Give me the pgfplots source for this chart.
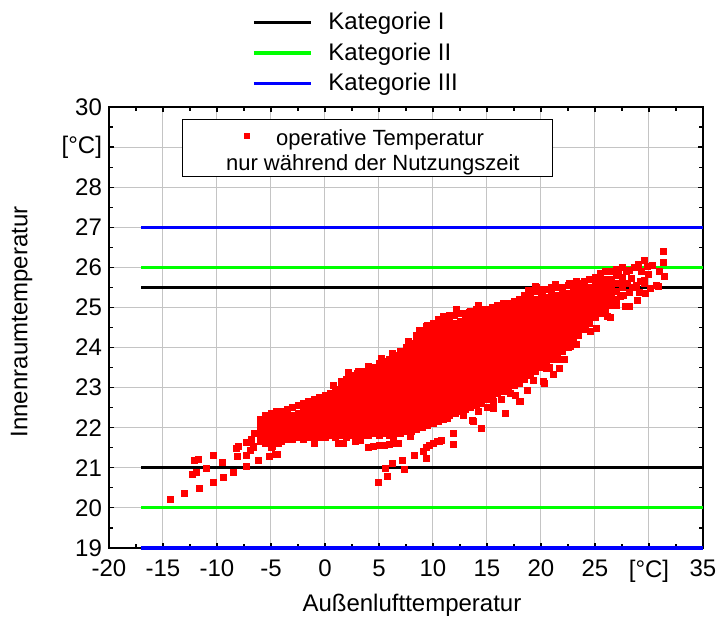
\documentclass[border=0pt]{standalone}
\usepackage{fontspec}
\setmainfont{Liberation Sans}
\usepackage{pgfplots}
\pgfplotsset{compat=1.18}
\definecolor{gridgray}{RGB}{196,196,196}
\definecolor{katgreen}{RGB}{0,255,0}
\definecolor{katblue}{RGB}{0,0,255}
\definecolor{ptred}{RGB}{255,0,0}
\begin{document}
\begin{tikzpicture}
\useasboundingbox (-54.5pt,-35.5pt) rectangle (305pt,274pt);
\begin{axis}[
  at={(0pt,0pt)}, anchor=south west,
  scale only axis, width=297pt, height=220.5pt,
  xmin=-20, xmax=35, ymin=19, ymax=30,
  xtick={-20,-15,...,35}, ytick={19,20,...,30},
  xticklabels={-20,-15,-10,-5,0,5,10,15,20,25,{[°C]},35},
  yticklabels={19,20,21,22,23,24,25,26,27,28,{[°C]},30},
  minor x tick num=1, minor y tick num=1,
  major tick length=2.5pt, minor tick length=2pt,
  tick style={black, line width=0.6pt},
  grid=major, grid style={gridgray, line width=0.5pt},
  axis line style={line width=1.2pt},
  font=\fontsize{12}{14}\selectfont,
  xlabel={Außenlufttemperatur}, ylabel={Innenraumtemperatur},
  every axis x label/.style={at={(axis description cs:0.51,-0.129)}, anchor=center},
  every axis y label/.style={at={(axis description cs:-0.147,0.5125)}, anchor=center, rotate=90},
  xticklabel style={yshift=-2.5pt},
  clip=false, unbounded coords=jump,
  legend image code/.code={\draw[#1] (0cm,0cm) -- (1cm,0cm);},
  legend cell align=left,
  legend style={at={(axis description cs:0.2407,1.2255)}, anchor=north west, draw=none, fill=none, inner sep=0pt, column sep=4pt, row sep=1.2pt, nodes={inner xsep=4pt, inner ysep=2pt}, font=\fontsize{12}{14}\selectfont},
]
\addplot[black, line width=1.6pt] coordinates {(-17,21) (35,21) (35,nan) (-17,25.5) (35,25.5)};
\addlegendentry{Kategorie I}
\addplot[katgreen, line width=1.6pt] coordinates {(-17,20) (35,20) (35,nan) (-17,26) (35,26)};
\addlegendentry{Kategorie II}
\addplot[katblue, line width=1.6pt] coordinates {(-17,19) (35,19) (35,nan) (-17,27) (35,27)};
\addlegendentry{Kategorie III}
\end{axis}
\begin{axis}[
  at={(0pt,0pt)}, anchor=south west,
  scale only axis, width=297pt, height=220.5pt,
  xmin=-20, xmax=35, ymin=19, ymax=30,
  hide axis, clip=false,
  legend cell align=left,
  legend image code/.code={\path[draw=none,fill=none] (-0.36cm,0cm) -- (0.7cm,0cm); \draw[#1,mark size=1.25pt,only marks] plot coordinates {(0.3cm,0cm)};},
  legend style={at={(axis description cs:0.1232,0.9721)}, anchor=north west, draw=black, line width=0.6pt, fill=white, inner xsep=13pt, inner ysep=0pt, row sep=0pt, column sep=0pt, nodes={inner xsep=3.5pt, inner ysep=1.6pt}, font=\fontsize{11}{13}\selectfont},
]
\addplot[only marks, mark=square*, mark size=1.5pt, color=ptred, mark options={line width=0.3pt}] coordinates {
(-6,21.65)(-6,21.8)(-6,21.95)(-6,22.1)(-6,22.2)
(-5.5,21.6)(-5.5,21.75)(-5.5,21.9)(-5.5,22.05)(-5.5,22.2)(-5.5,22.3)
(-5,21.65)(-5,21.8)(-5,21.95)(-5,22.1)(-5,22.25)(-5,22.35)
(-4.5,21.7)(-4.5,21.85)(-4.5,22)(-4.5,22.15)(-4.5,22.3)(-4.5,22.4)
(-4,21.65)(-4,21.8)(-4,21.95)(-4,22.1)(-4,22.25)(-4,22.4)
(-3.5,21.7)(-3.5,21.85)(-3.5,22)(-3.5,22.15)(-3.5,22.3)(-3.5,22.45)
(-3,21.7)(-3,21.85)(-3,22)(-3,22.15)(-3,22.3)(-3,22.5)
(-2.5,21.75)(-2.5,21.9)(-2.5,22.05)(-2.5,22.2)(-2.5,22.35)(-2.5,22.55)
(-2,21.7)(-2,21.85)(-2,22)(-2,22.15)(-2,22.3)(-2,22.45)(-2,22.6)
(-1.5,21.75)(-1.5,21.9)(-1.5,22.05)(-1.5,22.2)(-1.5,22.35)(-1.5,22.5)(-1.5,22.65)
(-1,21.7)(-1,21.85)(-1,22)(-1,22.15)(-1,22.3)(-1,22.45)(-1,22.6)(-1,22.7)
(-0.5,21.75)(-0.5,21.9)(-0.5,22.05)(-0.5,22.2)(-0.5,22.35)(-0.5,22.5)(-0.5,22.65)(-0.5,22.75)
(0,21.75)(0,21.9)(0,22.05)(0,22.2)(0,22.35)(0,22.5)(0,22.65)(0,22.8)
(0.5,21.8)(0.5,21.95)(0.5,22.1)(0.5,22.25)(0.5,22.4)(0.5,22.55)(0.5,22.7)(0.5,22.85)
(1,21.75)(1,21.9)(1,22.05)(1,22.2)(1,22.35)(1,22.5)(1,22.65)(1,22.8)(1,22.95)
(1.5,21.8)(1.5,21.95)(1.5,22.1)(1.5,22.25)(1.5,22.4)(1.5,22.55)(1.5,22.7)(1.5,22.85)(1.5,23)(1.5,23.1)
(2,21.75)(2,21.9)(2,22.05)(2,22.2)(2,22.35)(2,22.5)(2,22.65)(2,22.8)(2,22.95)(2,23.1)(2,23.2)
(2.5,21.8)(2.5,21.95)(2.5,22.1)(2.5,22.25)(2.5,22.4)(2.5,22.55)(2.5,22.7)(2.5,22.85)(2.5,23)(2.5,23.15)(2.5,23.3)
(3,21.75)(3,21.9)(3,22.05)(3,22.2)(3,22.35)(3,22.5)(3,22.65)(3,22.8)(3,22.95)(3,23.1)(3,23.25)(3,23.35)
(3.5,21.8)(3.5,21.95)(3.5,22.1)(3.5,22.25)(3.5,22.4)(3.5,22.55)(3.5,22.7)(3.5,22.85)(3.5,23)(3.5,23.15)(3.5,23.3)(3.5,23.4)
(4,21.8)(4,21.95)(4,22.1)(4,22.25)(4,22.4)(4,22.55)(4,22.7)(4,22.85)(4,23)(4,23.15)(4,23.3)(4,23.45)(4,23.5)
(4.5,21.85)(4.5,22)(4.5,22.15)(4.5,22.3)(4.5,22.45)(4.5,22.6)(4.5,22.75)(4.5,22.9)(4.5,23.05)(4.5,23.2)(4.5,23.35)(4.5,23.5)
(5,21.8)(5,21.95)(5,22.1)(5,22.25)(5,22.4)(5,22.55)(5,22.7)(5,22.85)(5,23)(5,23.15)(5,23.3)(5,23.45)(5,23.6)
(5.5,21.85)(5.5,22)(5.5,22.15)(5.5,22.3)(5.5,22.45)(5.5,22.6)(5.5,22.75)(5.5,22.9)(5.5,23.05)(5.5,23.2)(5.5,23.35)(5.5,23.5)(5.5,23.65)
(6,21.8)(6,21.95)(6,22.1)(6,22.25)(6,22.4)(6,22.55)(6,22.7)(6,22.85)(6,23)(6,23.15)(6,23.3)(6,23.45)(6,23.6)(6,23.7)
(6.5,21.85)(6.5,22)(6.5,22.15)(6.5,22.3)(6.5,22.45)(6.5,22.6)(6.5,22.75)(6.5,22.9)(6.5,23.05)(6.5,23.2)(6.5,23.35)(6.5,23.5)(6.5,23.65)(6.5,23.8)
(7,21.85)(7,22)(7,22.15)(7,22.3)(7,22.45)(7,22.6)(7,22.75)(7,22.9)(7,23.05)(7,23.2)(7,23.35)(7,23.5)(7,23.65)(7,23.8)(7,23.9)
(7.5,21.9)(7.5,22.05)(7.5,22.2)(7.5,22.35)(7.5,22.5)(7.5,22.65)(7.5,22.8)(7.5,22.95)(7.5,23.1)(7.5,23.25)(7.5,23.4)(7.5,23.55)(7.5,23.7)(7.5,23.85)(7.5,24)
(8,21.9)(8,22.05)(8,22.2)(8,22.35)(8,22.5)(8,22.65)(8,22.8)(8,22.95)(8,23.1)(8,23.25)(8,23.4)(8,23.55)(8,23.7)(8,23.85)(8,24)(8,24.1)
(8.5,21.95)(8.5,22.1)(8.5,22.25)(8.5,22.4)(8.5,22.55)(8.5,22.7)(8.5,22.85)(8.5,23)(8.5,23.15)(8.5,23.3)(8.5,23.45)(8.5,23.6)(8.5,23.75)(8.5,23.9)(8.5,24.05)(8.5,24.2)(8.5,24.3)
(9,22)(9,22.15)(9,22.3)(9,22.45)(9,22.6)(9,22.75)(9,22.9)(9,23.05)(9,23.2)(9,23.35)(9,23.5)(9,23.65)(9,23.8)(9,23.95)(9,24.1)(9,24.25)(9,24.4)
(9.5,22.05)(9.5,22.2)(9.5,22.35)(9.5,22.5)(9.5,22.65)(9.5,22.8)(9.5,22.95)(9.5,23.1)(9.5,23.25)(9.5,23.4)(9.5,23.55)(9.5,23.7)(9.5,23.85)(9.5,24)(9.5,24.15)(9.5,24.3)(9.5,24.45)(9.5,24.55)
(10,22.1)(10,22.25)(10,22.4)(10,22.55)(10,22.7)(10,22.85)(10,23)(10,23.15)(10,23.3)(10,23.45)(10,23.6)(10,23.75)(10,23.9)(10,24.05)(10,24.2)(10,24.35)(10,24.5)(10,24.6)
(10.5,22.15)(10.5,22.3)(10.5,22.45)(10.5,22.6)(10.5,22.75)(10.5,22.9)(10.5,23.05)(10.5,23.2)(10.5,23.35)(10.5,23.5)(10.5,23.65)(10.5,23.8)(10.5,23.95)(10.5,24.1)(10.5,24.25)(10.5,24.4)(10.5,24.55)(10.5,24.7)
(11,22.2)(11,22.35)(11,22.5)(11,22.65)(11,22.8)(11,22.95)(11,23.1)(11,23.25)(11,23.4)(11,23.55)(11,23.7)(11,23.85)(11,24)(11,24.15)(11,24.3)(11,24.45)(11,24.6)(11,24.75)
(11.5,22.3)(11.5,22.45)(11.5,22.6)(11.5,22.75)(11.5,22.9)(11.5,23.05)(11.5,23.2)(11.5,23.35)(11.5,23.5)(11.5,23.65)(11.5,23.8)(11.5,23.95)(11.5,24.1)(11.5,24.25)(11.5,24.4)(11.5,24.55)(11.5,24.7)(11.5,24.8)
(12,22.35)(12,22.5)(12,22.65)(12,22.8)(12,22.95)(12,23.1)(12,23.25)(12,23.4)(12,23.55)(12,23.7)(12,23.85)(12,24)(12,24.15)(12,24.3)(12,24.45)(12,24.6)(12,24.8)
(12.5,22.4)(12.5,22.55)(12.5,22.7)(12.5,22.85)(12.5,23)(12.5,23.15)(12.5,23.3)(12.5,23.45)(12.5,23.6)(12.5,23.75)(12.5,23.9)(12.5,24.05)(12.5,24.2)(12.5,24.35)(12.5,24.5)(12.5,24.65)(12.5,24.85)
(13,22.45)(13,22.6)(13,22.75)(13,22.9)(13,23.05)(13,23.2)(13,23.35)(13,23.5)(13,23.65)(13,23.8)(13,23.95)(13,24.1)(13,24.25)(13,24.4)(13,24.55)(13,24.7)(13,24.85)
(13.5,22.5)(13.5,22.65)(13.5,22.8)(13.5,22.95)(13.5,23.1)(13.5,23.25)(13.5,23.4)(13.5,23.55)(13.5,23.7)(13.5,23.85)(13.5,24)(13.5,24.15)(13.5,24.3)(13.5,24.45)(13.5,24.6)(13.5,24.75)(13.5,24.9)
(14,22.55)(14,22.7)(14,22.85)(14,23)(14,23.15)(14,23.3)(14,23.45)(14,23.6)(14,23.75)(14,23.9)(14,24.05)(14,24.2)(14,24.35)(14,24.5)(14,24.65)(14,24.8)(14,24.95)
(14.5,22.6)(14.5,22.75)(14.5,22.9)(14.5,23.05)(14.5,23.2)(14.5,23.35)(14.5,23.5)(14.5,23.65)(14.5,23.8)(14.5,23.95)(14.5,24.1)(14.5,24.25)(14.5,24.4)(14.5,24.55)(14.5,24.7)(14.5,24.85)(14.5,24.95)
(15,22.7)(15,22.85)(15,23)(15,23.15)(15,23.3)(15,23.45)(15,23.6)(15,23.75)(15,23.9)(15,24.05)(15,24.2)(15,24.35)(15,24.5)(15,24.65)(15,24.8)(15,24.95)
(15.5,22.75)(15.5,22.9)(15.5,23.05)(15.5,23.2)(15.5,23.35)(15.5,23.5)(15.5,23.65)(15.5,23.8)(15.5,23.95)(15.5,24.1)(15.5,24.25)(15.5,24.4)(15.5,24.55)(15.5,24.7)(15.5,24.85)(15.5,25)
(16,22.85)(16,23)(16,23.15)(16,23.3)(16,23.45)(16,23.6)(16,23.75)(16,23.9)(16,24.05)(16,24.2)(16,24.35)(16,24.5)(16,24.65)(16,24.8)(16,24.95)(16,25.05)
(16.5,22.9)(16.5,23.05)(16.5,23.2)(16.5,23.35)(16.5,23.5)(16.5,23.65)(16.5,23.8)(16.5,23.95)(16.5,24.1)(16.5,24.25)(16.5,24.4)(16.5,24.55)(16.5,24.7)(16.5,24.85)(16.5,25)(16.5,25.1)
(17,23)(17,23.15)(17,23.3)(17,23.45)(17,23.6)(17,23.75)(17,23.9)(17,24.05)(17,24.2)(17,24.35)(17,24.5)(17,24.65)(17,24.8)(17,24.95)(17,25.1)
(17.5,23.05)(17.5,23.2)(17.5,23.35)(17.5,23.5)(17.5,23.65)(17.5,23.8)(17.5,23.95)(17.5,24.1)(17.5,24.25)(17.5,24.4)(17.5,24.55)(17.5,24.7)(17.5,24.85)(17.5,25)(17.5,25.15)
(18,23.1)(18,23.25)(18,23.4)(18,23.55)(18,23.7)(18,23.85)(18,24)(18,24.15)(18,24.3)(18,24.45)(18,24.6)(18,24.75)(18,24.9)(18,25.05)(18,25.2)
(18.5,23.2)(18.5,23.35)(18.5,23.5)(18.5,23.65)(18.5,23.8)(18.5,23.95)(18.5,24.1)(18.5,24.25)(18.5,24.4)(18.5,24.55)(18.5,24.7)(18.5,24.85)(18.5,25)(18.5,25.15)(18.5,25.3)
(19,23.3)(19,23.45)(19,23.6)(19,23.75)(19,23.9)(19,24.05)(19,24.2)(19,24.35)(19,24.5)(19,24.65)(19,24.8)(19,24.95)(19,25.1)(19,25.25)(19,25.35)
(19.5,23.4)(19.5,23.55)(19.5,23.7)(19.5,23.85)(19.5,24)(19.5,24.15)(19.5,24.3)(19.5,24.45)(19.5,24.6)(19.5,24.75)(19.5,24.9)(19.5,25.05)(19.5,25.2)(19.5,25.4)
(20,23.5)(20,23.65)(20,23.8)(20,23.95)(20,24.1)(20,24.25)(20,24.4)(20,24.55)(20,24.7)(20,24.85)(20,25)(20,25.15)(20,25.3)(20,25.45)
(20.5,23.6)(20.5,23.75)(20.5,23.9)(20.5,24.05)(20.5,24.2)(20.5,24.35)(20.5,24.5)(20.5,24.65)(20.5,24.8)(20.5,24.95)(20.5,25.1)(20.5,25.25)(20.5,25.45)
(21,23.7)(21,23.85)(21,24)(21,24.15)(21,24.3)(21,24.45)(21,24.6)(21,24.75)(21,24.9)(21,25.05)(21,25.2)(21,25.35)(21,25.5)
(21.5,23.8)(21.5,23.95)(21.5,24.1)(21.5,24.25)(21.5,24.4)(21.5,24.55)(21.5,24.7)(21.5,24.85)(21.5,25)(21.5,25.15)(21.5,25.3)(21.5,25.5)
(22,23.9)(22,24.05)(22,24.2)(22,24.35)(22,24.5)(22,24.65)(22,24.8)(22,24.95)(22,25.1)(22,25.25)(22,25.4)(22,25.5)
(22.5,24)(22.5,24.15)(22.5,24.3)(22.5,24.45)(22.5,24.6)(22.5,24.75)(22.5,24.9)(22.5,25.05)(22.5,25.2)(22.5,25.35)(22.5,25.55)
(23,24.2)(23,24.35)(23,24.5)(23,24.65)(23,24.8)(23,24.95)(23,25.1)(23,25.25)(23,25.4)(23,25.55)
(23.5,24.3)(23.5,24.45)(23.5,24.6)(23.5,24.75)(23.5,24.9)(23.5,25.05)(23.5,25.2)(23.5,25.35)(23.5,25.5)(23.5,25.6)
(24,24.45)(24,24.6)(24,24.75)(24,24.9)(24,25.05)(24,25.2)(24,25.35)(24,25.5)(24,25.65)
(24.5,24.6)(24.5,24.75)(24.5,24.9)(24.5,25.05)(24.5,25.2)(24.5,25.35)(24.5,25.5)(24.5,25.7)
(25,24.75)(25,24.9)(25,25.05)(25,25.2)(25,25.35)(25,25.5)(25,25.65)(25,25.75)
(25.5,24.85)(25.5,25)(25.5,25.15)(25.5,25.3)(25.5,25.45)(25.5,25.6)(25.5,25.75)(25.5,25.85)
(26,24.95)(26,25.1)(26,25.25)(26,25.4)(26,25.55)(26,25.7)(26,25.9)
(26.5,25.1)(26.5,25.25)(26.5,25.4)(26.5,25.55)(26.5,25.7)(26.5,25.9)
(27,25.2)(27,25.4)(27,25.6)(27,25.8)(27,25.95)
(27.5,25.3)(27.5,25.5)(27.5,25.75)(27.5,26)
(-14.3,20.22)(-13,20.36)(-11.6,20.5)(-12.3,20.83)(-11.9,20.9)(-12.1,21.19)(-11.7,21.21)(-11,20.99)(-10.3,21.32)(-9.5,21.14)
(-10.3,20.65)(-9.4,20.77)(-8.5,20.89)(-8.2,21.49)(-8,21.53)(-8.1,21.28)(-7.3,21.64)(-7.3,21.03)(-7.3,21.31)(-6.9,21.44)
(-6.6,21.5)(-6.2,21.18)(-5.2,21.28)(-4.6,21.33)(-4.4,21.34)(-5,21.52)(-4.3,21.61)(-6.6,21.53)(-4.9,21.53)(-6.8,21.72)(-6.5,21.85)
(4,21.51)(4.5,21.53)(5,21.55)(5.5,21.57)(6,21.59)(6.5,21.6)(6.8,21.61)(9.1,21.4)(9.4,21.5)(9.7,21.56)(10,21.61)(10.4,21.65)(10.8,21.69)
(4.9,20.63)(5.8,20.78)(5.6,20.99)(6.2,21.11)(7.2,21.19)(7.3,20.96)(8.3,21.3)(9.4,21.24)(7.9,21.78)(8,21.9)(11.9,21.86)(11.9,21.59)(10.6,21.65)(-1,21.6)(1.2,21.62)(2.8,21.65)
(12.1,22.37)(11.3,22.23)(13.7,22.17)(14.5,21.98)(15.6,22.67)(15.6,22.48)(16.7,22.36)(17.6,22.8)(18,22.65)(13.6,22.19)(13.9,22.55)(18.1,22.65)(18.7,22.94)(19.3,23.19)(19,23.36)
(20.3,23.12)(20.2,23.15)(20.5,23.48)(21.1,23.32)(21.7,23.48)(21.5,23.71)(22.2,23.71)(22.7,24.02)(24.1,24.52)(25.1,24.48)(24,24.52)(26.1,24.77)(26.4,24.75)(15,22.5)(12.8,22.3)
(1.5,23.15)(3.1,23.4)(4,23.52)(9.4,24.52)(11,24.77)(13.4,24.89)(15.9,24.98)(17.4,25.1)(19.5,25.52)(19.6,25.5)(20.1,25.35)(22.6,25.6)(23.3,25.65)
(0.8,23.05)(2.2,23.38)(5.2,23.72)(6.2,23.85)(7.7,24.15)(8.7,24.42)(12.2,24.95)(14.2,25.05)(18.8,25.42)(21.3,25.58)
(1.7,21.62)(3.3,21.68)(6.3,21.72)(14.2,22.4)(16.3,22.72)(17.2,22.85)(20.8,23.5)(23.3,24.08)(24.6,24.4)
(31.3,26.39)(31.3,26.13)(31,25.89)(31.4,25.77)(30.7,25.56)(30.9,25.52)(30.3,26.06)(29.8,26.03)(29,26.08)(29.9,25.83)(29.3,25.89)(29.6,25.68)
(28.2,25.93)(27.9,25.89)(28.4,25.73)(29.2,25.64)(29.6,25.6)(29.7,25.35)(29.1,25.37)(28.9,25.19)(28.2,25.38)(28.2,25.02)(27.8,25.04)(30.1,25.48)
(26.7,25.89)(27.2,25.93)(27.5,25.68)(27.3,25.27)(27.6,25.31)(27,25.06)(26.2,25.19)(26.4,25.06)(28.6,26)(28.8,25.55)(29.6,26.18)(28.5,25.5)(28,25.6)
};
\addlegendentry{\rule{0pt}{11pt}operative Temperatur}
\addlegendimage{empty legend}
\addlegendentry{\hspace*{-25pt}nur während der Nutzungszeit}
\end{axis}
\end{tikzpicture}
\end{document}
